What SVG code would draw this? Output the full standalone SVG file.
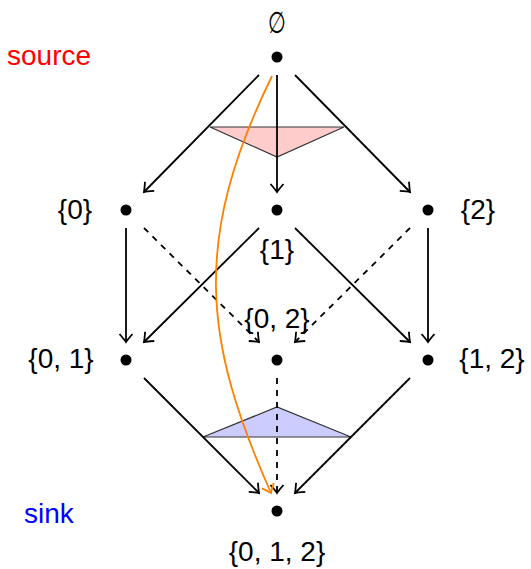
<svg xmlns="http://www.w3.org/2000/svg" width="531" height="569" viewBox="0 0 531 569">
<style>
.e{fill:none;stroke:#000;stroke-width:1.8;marker-end:url(#to)}
.d{stroke-dasharray:6 6}
.o{fill:none;stroke:#ff8000;stroke-width:1.8;marker-end:url(#too)}
.t{font-family:"Liberation Sans",Arial,sans-serif;font-size:28px;text-anchor:middle;fill:#000}
.lab{font-family:"Liberation Sans",Arial,sans-serif;font-size:28px}
.tri{stroke:#333;stroke-width:1.2}
</style>
<defs>
<marker id="to" markerUnits="userSpaceOnUse" markerWidth="20" markerHeight="20" viewBox="-10 -10 20 20" refX="0" refY="0" orient="auto">
<path d="M -8 -6.5 Q -2 -1.3 0 0 Q -2 1.3 -8 6.5" fill="none" stroke="#000" stroke-width="1.8"/>
</marker>
<marker id="too" markerUnits="userSpaceOnUse" markerWidth="20" markerHeight="20" viewBox="-10 -10 20 20" refX="0" refY="0" orient="auto">
<path d="M -8 -6.5 Q -2 -1.3 0 0 Q -2 1.3 -8 6.5" fill="none" stroke="#ff8000" stroke-width="1.8"/>
</marker>
</defs>
<rect width="531" height="569" fill="#fff"/>
<g id="triangles">
<polygon class="tri" points="210,127 344,127 277,157" fill="#ffcccc"/>
<polygon class="tri" points="203,437 351,437 277,407" fill="#ccccff"/>
</g>
<g id="connectors">
<line class="e" x1="259" y1="75" x2="144" y2="192"/>
<line class="e" x1="277" y1="75" x2="277" y2="192"/>
<line class="e" x1="295" y1="75" x2="410" y2="192"/>
<line class="e" x1="126" y1="228" x2="126" y2="342"/>
<line class="e d" x1="144" y1="228" x2="259" y2="342"/>
<line class="e" x1="259" y1="228" x2="144" y2="342"/>
<line class="e" x1="295" y1="228" x2="410" y2="342"/>
<line class="e d" x1="410" y1="228" x2="295" y2="342"/>
<line class="e" x1="428" y1="228" x2="428" y2="342"/>
<line class="e" x1="144" y1="378" x2="259" y2="493"/>
<line class="e d" x1="277" y1="378" x2="277" y2="493"/>
<line class="e" x1="410" y1="378" x2="295" y2="493"/>
<path class="o" d="M 272 76 C 192 240, 203 340, 271 493"/>
</g>
<g id="n-empty"><circle cx="277" cy="57" r="5.5"/><text class="t" x="0" y="0" transform="translate(277,33) scale(0.85,1.25)" style="font-family:'DejaVu Sans',sans-serif;font-size:24px">∅</text></g>
<g id="n-0"><circle cx="126" cy="210" r="5.5"/><text class="t" x="75" y="219">{0}</text></g>
<g id="n-1"><circle cx="277" cy="210" r="5.5"/><text class="t" x="277" y="259">{1}</text></g>
<g id="n-2"><circle cx="428" cy="210" r="5.5"/><text class="t" x="478" y="219">{2}</text></g>
<g id="n-01"><circle cx="126" cy="360" r="5.5"/><text class="t" x="61" y="368">{0, 1}</text></g>
<g id="n-02"><circle cx="277" cy="360" r="5.5"/><text class="t" x="277" y="328">{0, 2}</text></g>
<g id="n-12"><circle cx="428" cy="360" r="5.5"/><text class="t" x="492" y="368">{1, 2}</text></g>
<g id="n-012"><circle cx="277" cy="511" r="5.5"/><text class="t" x="277" y="561">{0, 1, 2}</text></g>
<g id="labels">
<text class="lab" x="7" y="65" fill="#ff0000">source</text>
<text class="lab" x="24" y="523" fill="#0000ff">sink</text>
</g>
</svg>
